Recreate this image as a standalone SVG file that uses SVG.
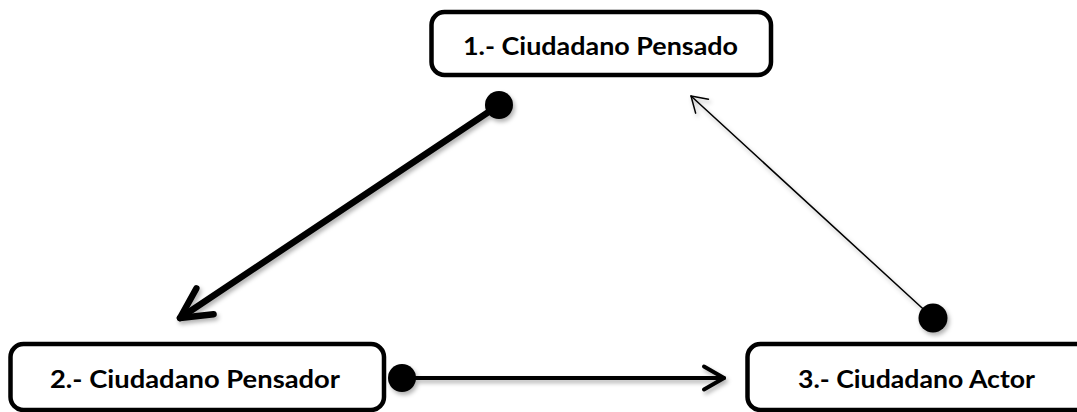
<svg xmlns="http://www.w3.org/2000/svg" width="1077" height="412" viewBox="0 0 1077 412">
<defs>
<style>
.box{fill:#fff;stroke:#000;stroke-width:4.5}
.lbl{font-family:Lato,"Open Sans","Liberation Sans",sans-serif;font-weight:bold;font-size:24px;fill:#000}
.conn{fill:none;stroke:#000;stroke-linecap:round;stroke-linejoin:round}
.dot{fill:#000}
</style>
<filter id="sh" x="-20%" y="-20%" width="140%" height="140%">
<feDropShadow dx="2" dy="3" stdDeviation="2" flood-color="#000" flood-opacity="0.3"/>
</filter>
<marker id="hThick" markerUnits="userSpaceOnUse" viewBox="-34 -18 38 36" refX="0" refY="0" markerWidth="38" markerHeight="36" orient="auto" overflow="visible">
<path d="M-30,-15.5 L0,0 L-30,15.5" fill="none" stroke="#000" stroke-width="6.5" stroke-linecap="round" stroke-linejoin="round"/>
</marker>
<marker id="hMed" markerUnits="userSpaceOnUse" viewBox="-24 -14 28 28" refX="0" refY="0" markerWidth="28" markerHeight="28" orient="auto" overflow="visible">
<path d="M-20,-11.5 L0,0 L-20,11.5" fill="none" stroke="#000" stroke-width="4" stroke-linecap="round" stroke-linejoin="round"/>
</marker>
<marker id="hThin" markerUnits="userSpaceOnUse" viewBox="-18 -12 20 24" refX="0" refY="0" markerWidth="20" markerHeight="24" orient="auto" overflow="visible">
<path d="M-15,-9.5 L0,0 L-15,9.5" fill="none" stroke="#000" stroke-width="1.5" stroke-linecap="round" stroke-linejoin="round"/>
</marker>
</defs>
<rect width="1077" height="412" fill="#fff"/>
<g id="connectors" filter="url(#sh)">
<g id="c1">
<line class="conn" x1="499" y1="105" x2="180" y2="318" stroke-width="6.5" marker-end="url(#hThick)"/>
<circle class="dot" cx="499" cy="105" r="14"/>
</g>
<g id="c2">
<line class="conn" x1="402" y1="378" x2="724" y2="378" stroke-width="4" marker-end="url(#hMed)"/>
<circle class="dot" cx="402" cy="378" r="14"/>
</g>
<g id="c3">
<line class="conn" x1="933" y1="318" x2="691" y2="96" stroke-width="1.5" marker-end="url(#hThin)"/>
<circle class="dot" cx="933" cy="318" r="14.5"/>
</g>
</g>
<g id="node1">
<rect class="box" x="431.5" y="12" width="339.5" height="63" rx="13"/>
<text class="lbl" x="600.5" y="55" text-anchor="middle" textLength="275" lengthAdjust="spacingAndGlyphs">1.- Ciudadano Pensado</text>
</g>
<g id="node2">
<rect class="box" x="10.5" y="344" width="373.5" height="66" rx="13"/>
<text class="lbl" x="195" y="388" text-anchor="middle" textLength="290" lengthAdjust="spacingAndGlyphs">2.- Ciudadano Pensador</text>
</g>
<g id="node3">
<rect class="box" x="747.5" y="344" width="360" height="66" rx="13"/>
<text class="lbl" x="916.5" y="388" text-anchor="middle" textLength="237" lengthAdjust="spacingAndGlyphs">3.- Ciudadano Actor</text>
</g>
</svg>
